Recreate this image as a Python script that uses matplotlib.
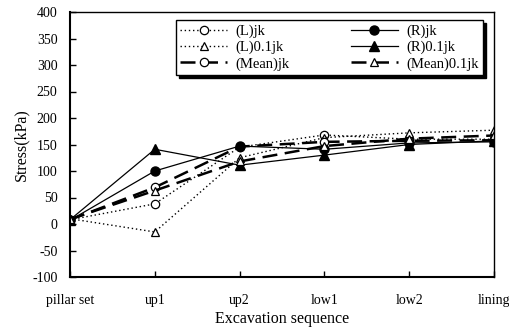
import numpy as np
import matplotlib.pyplot as plt

plt.rcParams['font.family'] = 'Liberation Serif'
plt.rcParams['axes.unicode_minus'] = False

stages = ["pillar set", "up1", "up2", "low1", "low2", "lining"]

l_jk = [8, 38, 145, 168, 160, 160]
r_jk = [7, 100, 147, 141, 153, 155]
l_01jk = [10, -15, 125, 163, 172, 177]
r_01jk = [8, 141, 111, 130, 150, 157]
mean_jk = [8, 69, 146, 155, 157, 158]
mean_01jk = [9, 63, 118, 147, 161, 167]

x = np.arange(len(stages))

fig = plt.figure(figsize=(5.09, 3.29), dpi=100)
ax = fig.add_axes([70/509, 1-277/329, 424/509, 265/329])

ax.plot(x, l_jk, ls=(0, (1, 2)), lw=1, color="k", marker="o", ms=6,
        mfc="white", mec="k", mew=0.9, label="(L)jk")
ax.plot(x, l_01jk, ls=(0, (1, 2)), lw=1, color="k", marker="^", ms=6,
        mfc="white", mec="k", mew=0.9, label="(L)0.1jk")
ax.plot(x, mean_jk, ls=(0, (6, 3)), lw=1.8, color="k", marker="o", ms=6,
        mfc="white", mec="k", mew=0.9, label="(Mean)jk")
ax.plot(x, r_jk, ls="-", lw=0.9, color="k", marker="o", ms=6.5,
        mfc="k", mec="k", label="(R)jk")
ax.plot(x, r_01jk, ls="-", lw=0.9, color="k", marker="^", ms=6.5,
        mfc="k", mec="k", label="(R)0.1jk")
ax.plot(x, mean_01jk, ls=(0, (6, 3)), lw=1.8, color="k", marker="^", ms=6,
        mfc="white", mec="k", mew=0.9, label="(Mean)0.1jk")

ax.set_xlim(0, 5)
ax.set_ylim(-100, 400)
ax.set_yticks(np.arange(-100, 401, 50))
ax.set_xticks(x)
ax.set_xticklabels(stages)
ax.tick_params(direction="in", labelsize=10, length=4, width=1)
ax.tick_params(axis="x", pad=12)
ax.tick_params(axis="y", pad=9)
for s in ax.spines.values():
    s.set_linewidth(1)
ax.spines["bottom"].set_linewidth(1.5)
ax.spines["left"].set_linewidth(1.5)

ax.set_ylabel("Stress(kPa)", fontsize=11.5, labelpad=2)
ax.set_xlabel("Excavation sequence", fontsize=11.5, labelpad=3)

leg = ax.legend(ncol=2, loc="upper right", bbox_to_anchor=(0.975, 0.97),
                borderaxespad=0,
                fontsize=10.5, frameon=True, fancybox=False, edgecolor="k",
                framealpha=1, shadow={"color": "k", "alpha": 1},
                handlelength=3.2, handletextpad=0.6, columnspacing=4.2,
                labelspacing=0.2, borderpad=0.3)
leg.get_frame().set_linewidth(1)

fig.savefig("out.png", dpi=100)
